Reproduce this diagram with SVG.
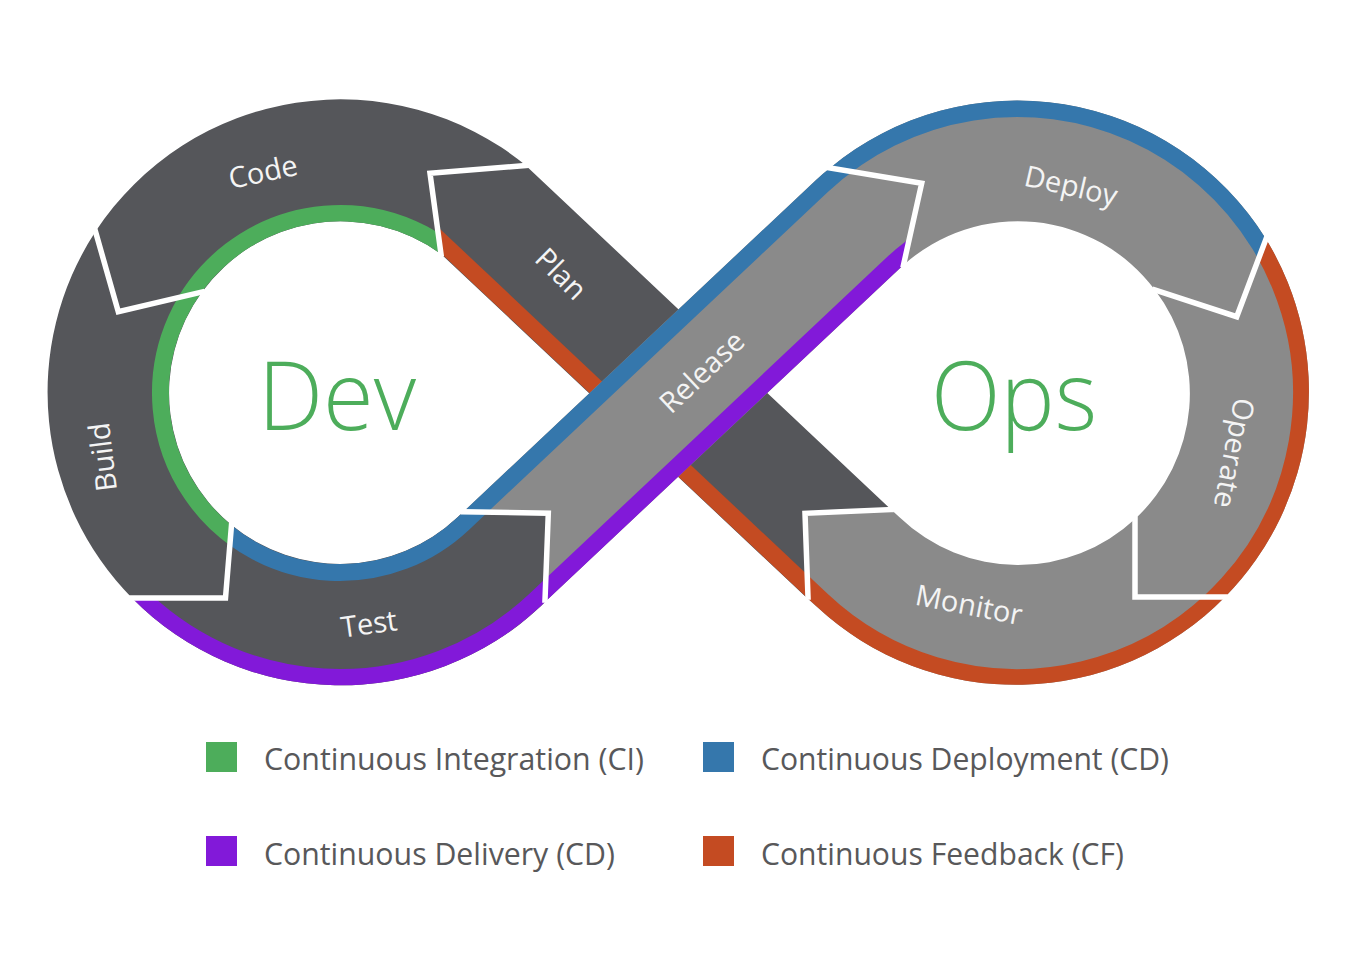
<svg xmlns="http://www.w3.org/2000/svg" width="1360" height="958" viewBox="0 0 1360 958">
<style>
.dark{fill:#55565a}
.light{fill:#8a8a8a}
.band{fill:none;stroke-width:17}
.g{stroke:#4dad5b}.b{stroke:#3577ac}.p{stroke:#8219d9}.o{stroke:#c44b22}
.sep{fill:none;stroke:#ffffff;stroke-width:5.5;stroke-linejoin:miter;stroke-linecap:square}
.lbl{font-family:"Open Sans","Noto Sans","DejaVu Sans",sans-serif;font-size:29px;fill:#f4f4f4;text-anchor:middle}
.big{font-family:"Open Sans","Noto Sans","DejaVu Sans",sans-serif;font-weight:300;font-size:96px;fill:#4dad5b;text-anchor:middle}
.leg{font-family:"Open Sans","Noto Sans","DejaVu Sans",sans-serif;font-size:31px;fill:#58585a}
</style>
<defs>
<clipPath id="cCode"><path d="M526 165.5 L430 173.3 L441 254 A171 171 0 0 0 202 292 L118.3 311.7 L95.5 231.6 A293 293 0 0 1 526 165.5 Z"/></clipPath>
<clipPath id="cBuild"><path d="M95.5 231.6 L118.3 311.7 L202 292 A171 171 0 0 0 231.5 525 L225.5 598 L132 598 A293 293 0 0 1 95.5 231.6 Z"/></clipPath>
<clipPath id="cTest"><path d="M132 598 L225.5 598 L231.5 525 A171 171 0 0 0 457.2 517.52 L463.3 511.8 L548.3 513.3 L545 602 L540.82 606.36 A293 293 0 0 1 132 598 Z"/></clipPath>
<clipPath id="cPlan"><path d="M808 599 L805 513.3 L891 509.5 L526 165.7 L430 173.3 L441 254 Z"/></clipPath>
<clipPath id="cRelease"><path d="M463.3 511.8 L548.3 513.3 L545 602 L899.8 268.48 A171 171 0 0 1 903.5 265 L921.7 183.3 L830 168 A293 293 0 0 0 816.18 179.64 Z"/></clipPath>
<clipPath id="cDeploy"><path d="M830 168 L921.7 183.3 L903.5 265 A171 171 0 0 1 1155 290 L1236.7 316.7 L1266 239 A293 293 0 0 0 830 168 Z"/></clipPath>
<clipPath id="cOperate"><path d="M1266 239 L1236.7 316.7 L1155 290 A171 171 0 0 1 1135 519 L1135 597 L1225 597 A293 293 0 0 0 1266 239 Z"/></clipPath>
<clipPath id="cMonitor"><path d="M1225 597 L1135 597 L1135 519 A171 171 0 0 1 899.8 517.52 L891 509.5 L805 513.3 L808 599 L816.18 606.36 A293 293 0 0 0 1225 597 Z"/></clipPath>
</defs>
<rect width="1360" height="958" fill="#ffffff"/>

<g id="code" clip-path="url(#cCode)">
<rect class="dark" x="0" y="0" width="1360" height="958"/>
<path class="band g" d="M495.45 303.25 A179.5 179.5 0 0 0 171.3 331.6"/>
</g>
<g id="build" clip-path="url(#cBuild)">
<rect class="dark" x="0" y="0" width="1360" height="958"/>
<path class="band g" d="M224.6 255.5 A179.5 179.5 0 0 0 250.25 548.45"/>
</g>
<g id="test" clip-path="url(#cTest)">
<rect class="dark" x="0" y="0" width="1360" height="958"/>
<path class="band b" d="M202.5 508.4 A179.5 179.5 0 0 0 463.03 523.71 L535.8 455.2"/>
<path class="band p" d="M122.1 575.9 A284.5 284.5 0 0 0 534.99 600.17 L607.8 531.7"/>
</g>
<g id="plan" clip-path="url(#cPlan)">
<rect class="dark" x="0" y="0" width="1360" height="958"/>
<path class="band o" d="M851.1 627.6 L397.5 200.6"/>
</g>
<g id="monitor" clip-path="url(#cMonitor)">
<rect class="light" x="0" y="0" width="1360" height="958"/>
<path class="band o" d="M1284.3 490.3 A284.5 284.5 0 0 1 822.01 600.17 L749.2 531.7"/>
</g>
<g id="operate" clip-path="url(#cOperate)">
<rect class="light" x="0" y="0" width="1360" height="958"/>
<path class="band o" d="M1199.9 175.1 A284.5 284.5 0 0 1 1114.3 660.3"/>
</g>
<g id="deploy" clip-path="url(#cDeploy)">
<rect class="light" x="0" y="0" width="1360" height="958"/>
<path class="band b" d="M770.6 250.75 A284.5 284.5 0 0 1 1291.8 319.4"/>
</g>
<g id="release" clip-path="url(#cRelease)">
<rect class="light" x="0" y="0" width="1360" height="958"/>
<path class="band b" d="M419.3 564.8 L822.01 185.83 A284.5 284.5 0 0 1 896.8 135.2"/>
<path class="band p" d="M491.3 641.3 L893.97 262.29 A179.5 179.5 0 0 1 941.1 230.3"/>
</g>

<g id="separators">
<polyline class="sep" points="526,165.5 430,173.3 441,254"/>
<polyline class="sep" points="95.5,231.6 118.3,311.7 202,292"/>
<polyline class="sep" points="132,598 225.5,598 231.5,525"/>
<polyline class="sep" points="463.3,511.8 548.3,513.3 545,600"/>
<polyline class="sep" points="830,168 921.7,183.3 903.5,265"/>
<polyline class="sep" points="1266,239 1236.7,316.7 1155,290"/>
<polyline class="sep" points="1135,519 1135,597 1225,597"/>
<polyline class="sep" points="891,509.5 805,513.3 808,597"/>
</g>

<g id="labels">
<text class="lbl" transform="translate(263,172) rotate(-12)" y="10">Code</text>
<text class="lbl" transform="translate(561,274) rotate(45)" y="10">Plan</text>
<text class="lbl" transform="translate(103,457) rotate(-97)" y="10">Build</text>
<text class="lbl" transform="translate(369,624) rotate(-8)" y="10">Test</text>
<text class="lbl" transform="translate(702,372) rotate(-43.3)" y="10">Release</text>
<text class="lbl" transform="translate(1071,186) rotate(13)" y="10">Deploy</text>
<text class="lbl" transform="translate(1234,453) rotate(101)" y="10">Operate</text>
<text class="lbl" transform="translate(969,605) rotate(11)" y="10">Monitor</text>
</g>

<g id="dev"><text class="big" x="337" y="430" textLength="158" lengthAdjust="spacingAndGlyphs">Dev</text></g>
<g id="ops"><text class="big" x="1014" y="430" textLength="166" lengthAdjust="spacingAndGlyphs">Ops</text></g>

<g id="legend">
<g id="legend-ci"><rect x="206" y="742" width="31" height="30" fill="#4dad5b"/><text class="leg" x="264" y="770" textLength="380" lengthAdjust="spacingAndGlyphs">Continuous Integration (CI)</text></g>
<g id="legend-cdeploy"><rect x="703" y="742" width="31" height="30" fill="#3577ac"/><text class="leg" x="761" y="770" textLength="408" lengthAdjust="spacingAndGlyphs">Continuous Deployment (CD)</text></g>
<g id="legend-cdelivery"><rect x="206" y="836" width="31" height="30" fill="#8219d9"/><text class="leg" x="264" y="865" textLength="351" lengthAdjust="spacingAndGlyphs">Continuous Delivery (CD)</text></g>
<g id="legend-cf"><rect x="703" y="836" width="31" height="30" fill="#c44b22"/><text class="leg" x="761" y="865" textLength="363" lengthAdjust="spacingAndGlyphs">Continuous Feedback (CF)</text></g>
</g>
</svg>
